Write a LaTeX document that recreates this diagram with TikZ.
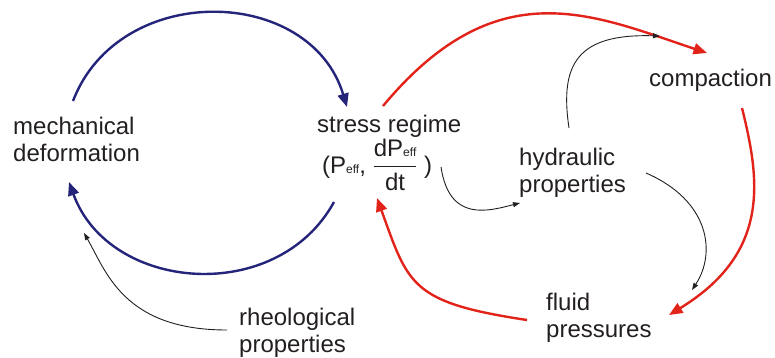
\documentclass[tikz,border=0pt]{standalone}
\usepackage{fontspec}
\setmainfont{Liberation Sans}
\usepackage{amsmath}
\usetikzlibrary{arrows.meta}
\definecolor{navy}{HTML}{23247A}
\definecolor{lred}{HTML}{E2231A}
\definecolor{ink}{HTML}{231F20}
\newcommand{\effsub}{\raisebox{-0.5pt}{\fontsize{12}{12}\selectfont eff}}
\begin{document}
\begin{tikzpicture}[x=1pt,y=-1pt,
  lbl/.style={inner sep=0pt, anchor=base west, align=left, text=ink, font=\fontsize{24}{27}\selectfont},
  bigarrow/.style={line width=2.4pt, -{Triangle[length=13.5pt,width=11pt]}},
  fine/.style={line width=0.9pt, draw=ink, -{Triangle[length=7pt,width=5pt]}}
]
\useasboundingbox (0,0) rectangle (775,358);

% text nodes (base anchor = baseline of the last line)
\node[lbl] (mech) at (13,161) {mechanical\\deformation};
\node[lbl] (regime) at (317,133) {stress regime};
\node[lbl] (peff) at (322,173) {(P\effsub, $\dfrac{\text{dP\effsub}}{\text{dt}}$ )};
\node[lbl] (hyd) at (519,192) {hydraulic\\properties};
\node[lbl] (comp) at (649,87) {compaction};
\node[lbl] (fluid) at (546,337) {fluid\\pressures};
\node[lbl] (rheo) at (239,352) {rheological\\properties};

% connector end points
\coordinate (mechTop) at (73,101);
\coordinate (regTopL) at (347,107);
\coordinate (regBotL) at (334,202);
\coordinate (mechBot) at (69,182);
\coordinate (regTopR) at (383,106);
\coordinate (compL) at (707,53);
\coordinate (compB) at (742,108);
\coordinate (fluidR) at (669,315);
\coordinate (fluidL) at (527,320);
\coordinate (regBotR) at (377,198);
\coordinate (peffR) at (441,167);
\coordinate (hydL) at (520,203);
\coordinate (hydT) at (569,128);
\coordinate (compT) at (660,36);
\coordinate (hydR) at (646,173);
\coordinate (fluidT) at (692,290);
\coordinate (rheoL) at (227,330);
\coordinate (mechB) at (84,233);

% blue loop
\draw[bigarrow, navy] (mechTop) .. controls (119,-19) and (310,-15) .. (regTopL);
\draw[bigarrow, navy] (regBotL) .. controls (277,306) and (109,292) .. (mechBot);

% red loop
\draw[bigarrow, lred] (regTopR) .. controls (497,-31) and (593,15) .. (compL);
\draw[bigarrow, lred] (compB) .. controls (759.5,178.7) and (771.5,252.3) .. (fluidR);
\draw[bigarrow, lred] (fluidL) .. controls (410.3,302.5) and (408.4,284.8) .. (regBotR);

% thin black arrows
\draw[fine] (peffR) .. controls (449.4,223) and (489,210.8) .. (hydL);
\draw[fine] (hydT) .. controls (559.4,63.7) and (577.5,33.5) .. (compT);
\draw[fine] (hydR) .. controls (709.8,200.7) and (716.3,253) .. (fluidT);
\draw[fine] (rheoL) .. controls (123.5,330) and (106.3,271.7) .. (mechB);
\end{tikzpicture}
\end{document}
